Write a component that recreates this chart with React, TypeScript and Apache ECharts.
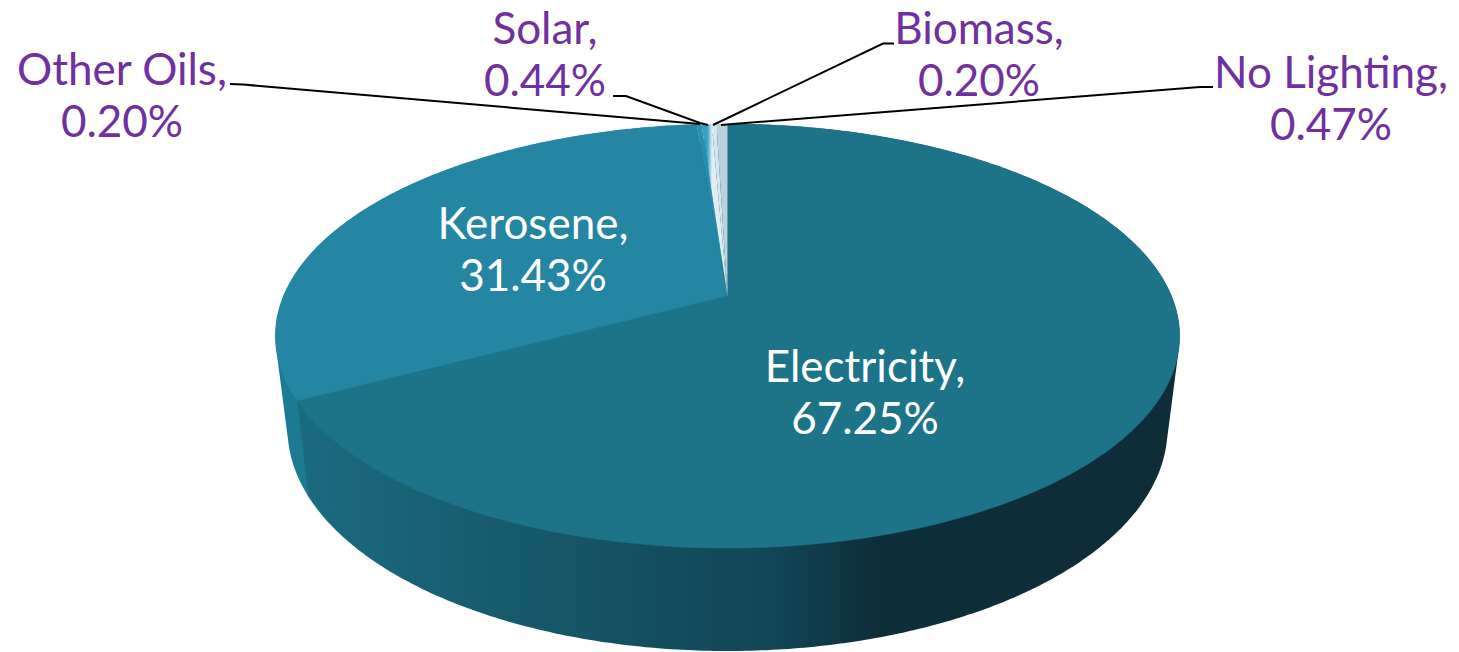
import React, { useEffect, useRef } from "react";
import * as echarts from "echarts";

const categories = ["Electricity", "Kerosene", "Other Oils", "Solar", "Biomass", "No Lighting"];
const shares = [67.25, 31.43, 0.2, 0.44, 0.2, 0.47];

const topColors = ["#1d7489", "#2486a3", "#2790ac", "#2b9abc", "#d5e6ee", "#b9d2de"];
const labelColors = ["#ffffff", "#ffffff", "#7030a0", "#7030a0", "#7030a0", "#7030a0"];
const labelCentres = [[865, 391], [533, 248], [122, 94], [545, 53], [979, 53], [1331, 97]];
const leaderPaths = [
  null,
  null,
  [[230, 84], [243, 84.5], [700, 124]],
  [[613, 96], [626, 96], [700, 123], [708, 125]],
  [[894, 43.5], [883, 43.5], [713, 125]],
  [[1213, 87], [1200, 87], [721, 125]],
];

const FONT = "Lato";
const APEX_X = 727.5;
const APEX_Y = 296;
const RX = 444;
const RY = 204.5;
const K = -0.1887;
const MID_Y = 336;
const BASE_MID_Y = 429;
const BASE_SCALE_X = 0.973;
const BASE_SCALE_Y = 1.047;

type Pt = [number, number];

function rim(angle: number): Pt {
  const u = Math.sin(angle);
  const v = -Math.cos(angle);
  const w = 1 + K * v;
  return [APEX_X + (u * RX) / w, APEX_Y + (v * RY) / w];
}
function baseRim(angle: number): Pt {
  const [x, y] = rim(angle);
  return [APEX_X + (x - APEX_X) * BASE_SCALE_X, BASE_MID_Y + (y - MID_Y) * BASE_SCALE_Y];
}
function sliceAngles(i: number): Pt {
  const total = shares.reduce((a, b) => a + b, 0);
  const before = shares.slice(0, i).reduce((a, b) => a + b, 0);
  return [(before / total) * Math.PI * 2, ((before + shares[i]) / total) * Math.PI * 2];
}
function arc(i: number, fn: (a: number) => Pt) {
  const [a0, a1] = sliceAngles(i);
  const n = Math.max(2, Math.ceil((a1 - a0) / 0.01));
  const pts: Pt[] = [];
  for (let s = 0; s <= n; s++) pts.push(fn(a0 + ((a1 - a0) * s) / n));
  return pts;
}
function hull(input: Pt[]): Pt[] {
  const pts = [...input].sort((a, b) => a[0] - b[0] || a[1] - b[1]);
  const cross = (o: Pt, a: Pt, b: Pt) => (a[0] - o[0]) * (b[1] - o[1]) - (a[1] - o[1]) * (b[0] - o[0]);
  const chain = (list: Pt[]) => {
    const out: Pt[] = [];
    for (const p of list) {
      while (out.length >= 2 && cross(out[out.length - 2], out[out.length - 1], p) <= 0) out.pop();
      out.push(p);
    }
    out.pop();
    return out;
  };
  return [...chain(pts), ...chain([...pts].reverse())];
}

export default function App() {
  const ref = useRef<HTMLDivElement>(null);
  useEffect(() => {
    document.body.style.margin = "0";
    document.body.style.background = "#fff";
    const chart = echarts.init(ref.current!, null, { renderer: "svg" });
    const sideFills = [
      new echarts.graphic.LinearGradient(300, 0, 1170, 0, [
        { offset: 0, color: "#1b6b80" },
        { offset: 0.3, color: "#155667" },
        { offset: 0.55, color: "#114555" },
        { offset: 0.66, color: "#0e2e3a" },
        { offset: 1, color: "#0e2d38" },
      ], true),
      "#1c7a92",
    ];
    const solarFill = new echarts.graphic.LinearGradient(701, 0, 712, 0, [
      { offset: 0, color: topColors[3] },
      { offset: 0.6, color: "#3fa5c4" },
      { offset: 1, color: "#dfeef4" },
    ], true);
    const data = shares.map((v, i) => ({ name: categories[i], value: v }));
    const sideData = data.slice(0, 2);
    chart.setOption({
      animation: false,
      series: [
        {
          type: "custom",
          coordinateSystem: "none",
          silent: true,
          z: 1,
          data: sideData,
          renderItem: (p: any) => ({
            type: "polygon",
            z2: 2 - p.dataIndex,
            shape: { points: hull([...arc(p.dataIndex, rim), ...arc(p.dataIndex, baseRim)]) },
            style: { fill: sideFills[p.dataIndex] },
          }),
        },
        {
          type: "custom",
          coordinateSystem: "none",
          silent: true,
          z: 2,
          data,
          renderItem: (p: any) => {
            const i = p.dataIndex;
            const fill = i === 3 ? solarFill : topColors[i];
            return {
              type: "polygon",
              shape: { points: [[APEX_X, APEX_Y], ...arc(i, rim)] },
              style: i < 2 ? { fill, stroke: fill, lineWidth: 0.4 } : { fill },
            };
          },
        },
        {
          type: "custom",
          coordinateSystem: "none",
          silent: true,
          z: 3,
          data,
          renderItem: (p: any, api: any) => {
            const i = p.dataIndex;
            const children: any[] = [];
            const path = leaderPaths[i];
            if (path) {
              children.push({
                type: "polyline",
                shape: { points: path },
                style: { stroke: "#000", lineWidth: 2, fill: null },
              });
            }
            children.push({
              type: "text",
              style: {
                text: `${categories[i]},\n${Number(api.value(0)).toFixed(2)}%`,
                x: labelCentres[i][0],
                y: labelCentres[i][1],
                align: "center",
                verticalAlign: "middle",
                fontFamily: FONT,
                fontSize: 44,
                lineHeight: 52,
                fill: labelColors[i],
              },
            });
            return { type: "group", children };
          },
        },
      ],
    });
    return () => chart.dispose();
  }, []);
  return <div ref={ref} style={{ position: "absolute", left: 0, top: 0, width: 1459, height: 652, overflow: "hidden" }} />;
}
